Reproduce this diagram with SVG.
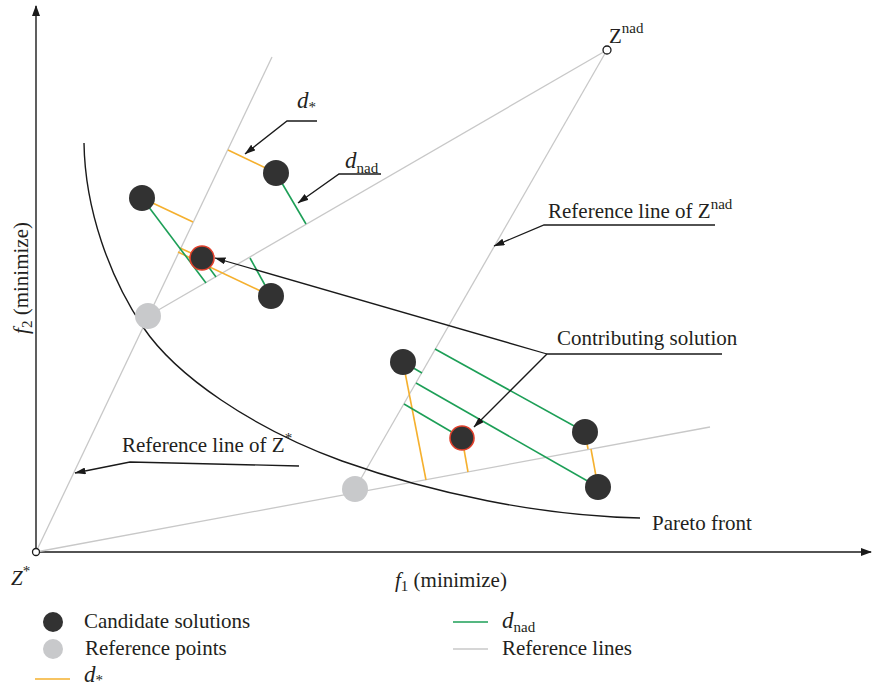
<svg xmlns="http://www.w3.org/2000/svg" width="872" height="690" viewBox="0 0 872 690">
<defs>
<marker id="ah" markerWidth="11" markerHeight="7" refX="10.5" refY="3.5" orient="auto" markerUnits="userSpaceOnUse"><path d="M0,0 L11,3.5 L0,7 Z" fill="#1a1a1a"/></marker>
<marker id="ax" markerWidth="11" markerHeight="8" refX="10" refY="4" orient="auto" markerUnits="userSpaceOnUse"><path d="M0,0 L11,4 L0,8 Z" fill="#1a1a1a"/></marker>
</defs>
<style>
.ref{stroke:#c8c8c8;stroke-width:1.3;fill:none}
.ds{stroke:#f5b02e;stroke-width:1.6;fill:none}
.dn{stroke:#1d9f57;stroke-width:1.6;fill:none}
.cand{fill:#323232}
.contrib{fill:#323232;stroke:#e0402c;stroke-width:1.6}
.rp{fill:#c8c9cb}
.lead{stroke:#1a1a1a;stroke-width:1.3;fill:none}
.axis{stroke:#1a1a1a;stroke-width:1.4;fill:none}
text{font-family:"Liberation Serif","Times New Roman",serif;font-size:21px;fill:#231f20}
.it{font-style:italic}
.sm{font-size:15px}
</style>

<!-- axes -->
<g id="axes">
<line class="axis" x1="36" y1="552" x2="36" y2="6" marker-end="url(#ax)"/>
<line class="axis" x1="36" y1="552" x2="871" y2="552" marker-end="url(#ax)"/>
</g>

<!-- reference lines -->
<g id="reference-lines">
<line class="ref" x1="36" y1="552" x2="272" y2="57"/>
<line class="ref" x1="36" y1="552" x2="710" y2="427"/>
<line class="ref" x1="607" y1="50" x2="148" y2="316"/>
<line class="ref" x1="607" y1="50" x2="355" y2="489"/>
</g>

<!-- Pareto front -->
<g id="pareto-front">
<path d="M84,143 C85,210 110,278 143,327 C176,376 252,428 342,461 C432,493 540,516 640,518" fill="none" stroke="#1a1a1a" stroke-width="1.4"/>
</g>

<!-- distance lines -->
<g id="connectors">
<line class="ds" x1="193" y1="222" x2="142" y2="198"/>
<line class="ds" x1="228" y1="150" x2="276" y2="173"/>
<line class="ds" x1="180" y1="248" x2="202" y2="258"/>
<line class="ds" x1="178" y1="252" x2="271" y2="296"/>
<line class="ds" x1="426" y1="480" x2="403" y2="362"/>
<line class="ds" x1="468" y1="472" x2="462" y2="438"/>
<line class="ds" x1="588" y1="449" x2="585" y2="432"/>
<line class="ds" x1="591" y1="449" x2="598" y2="487"/>
<line class="dn" x1="206" y1="283" x2="142" y2="198"/>
<line class="dn" x1="306" y1="224" x2="276" y2="173"/>
<line class="dn" x1="216" y1="277" x2="202" y2="258"/>
<line class="dn" x1="250" y1="258" x2="271" y2="296"/>
<line class="dn" x1="422" y1="373" x2="403" y2="362"/>
<line class="dn" x1="435" y1="349" x2="585" y2="432"/>
<line class="dn" x1="404" y1="404" x2="462" y2="438"/>
<line class="dn" x1="416" y1="383" x2="598" y2="487"/>
</g>

<!-- reference points -->
<g id="ref-point-1"><circle class="rp" cx="148" cy="316" r="13"/></g>
<g id="ref-point-2"><circle class="rp" cx="355" cy="489" r="13"/></g>

<!-- candidate solutions -->
<g id="node-1"><circle class="cand" cx="142" cy="198" r="13"/></g>
<g id="node-2"><circle class="cand" cx="276" cy="173" r="13"/></g>
<g id="node-3"><circle class="contrib" cx="202" cy="258" r="12"/></g>
<g id="node-4"><circle class="cand" cx="271" cy="296" r="13"/></g>
<g id="node-5"><circle class="cand" cx="403" cy="362" r="13"/></g>
<g id="node-6"><circle class="cand" cx="585" cy="432" r="13"/></g>
<g id="node-7"><circle class="contrib" cx="462" cy="438" r="12"/></g>
<g id="node-8"><circle class="cand" cx="598" cy="487" r="13"/></g>

<!-- special points -->
<g id="z-star"><circle cx="36" cy="552" r="3.5" fill="#fff" stroke="#1a1a1a" stroke-width="1.3"/></g>
<g id="z-nad"><circle cx="607" cy="50" r="4" fill="#fff" stroke="#1a1a1a" stroke-width="1.3"/></g>

<!-- annotation leaders -->
<g id="leaders">
<polyline class="lead" points="317,121 287,121 245,154" marker-end="url(#ah)"/>
<polyline class="lead" points="381,174 339,174 298,203" marker-end="url(#ah)"/>
<polyline class="lead" points="715,225 544,225 494,246" marker-end="url(#ah)"/>
<polyline class="lead" points="722,354 547,354 474,427" marker-end="url(#ah)"/>
<line class="lead" x1="547" y1="354" x2="215" y2="258" marker-end="url(#ah)"/>
<polyline class="lead" points="299,466 130,462 75,473" marker-end="url(#ah)"/>
</g>

<!-- labels -->
<g id="labels">
<text x="609" y="43">Z<tspan class="sm" dy="-10">nad</tspan></text>
<text x="297" y="108"><tspan class="it" font-size="23">d</tspan><tspan class="sm" dy="4">*</tspan></text>
<text x="345" y="168"><tspan class="it" font-size="23">d</tspan><tspan class="sm" dy="5">nad</tspan></text>
<text x="548" y="218">Reference line of Z<tspan class="sm" dy="-9">nad</tspan></text>
<text x="557" y="345">Contributing solution</text>
<text x="122" y="452">Reference line of Z<tspan class="sm" dy="-9">*</tspan></text>
<text x="652" y="530">Pareto front</text>
<text x="11" y="585"><tspan class="it">Z</tspan><tspan class="sm" dy="-9">*</tspan></text>
<text x="395" y="587"><tspan class="it">f</tspan><tspan class="sm" dy="4">1</tspan><tspan dy="-4"> (minimize)</tspan></text>
<text transform="translate(28,278) rotate(-90)" text-anchor="middle"><tspan class="it">f</tspan><tspan class="sm" dy="4">2</tspan><tspan dy="-4"> (minimize)</tspan></text>
</g>

<!-- legend -->
<g id="legend">
<circle class="cand" cx="53" cy="622" r="10"/>
<text x="84" y="628">Candidate solutions</text>
<circle class="rp" cx="53" cy="649" r="10"/>
<text x="85" y="655">Reference points</text>
<line class="ds" x1="35" y1="679" x2="70" y2="679"/>
<text x="84" y="682"><tspan class="it" font-size="23">d</tspan><tspan class="sm" dy="3">*</tspan></text>
<line class="dn" x1="453" y1="622" x2="488" y2="622"/>
<text x="502" y="628"><tspan class="it" font-size="23">d</tspan><tspan class="sm" dy="4">nad</tspan></text>
<line class="ref" x1="453" y1="649" x2="488" y2="649"/>
<text x="502" y="655">Reference lines</text>
</g>
</svg>
